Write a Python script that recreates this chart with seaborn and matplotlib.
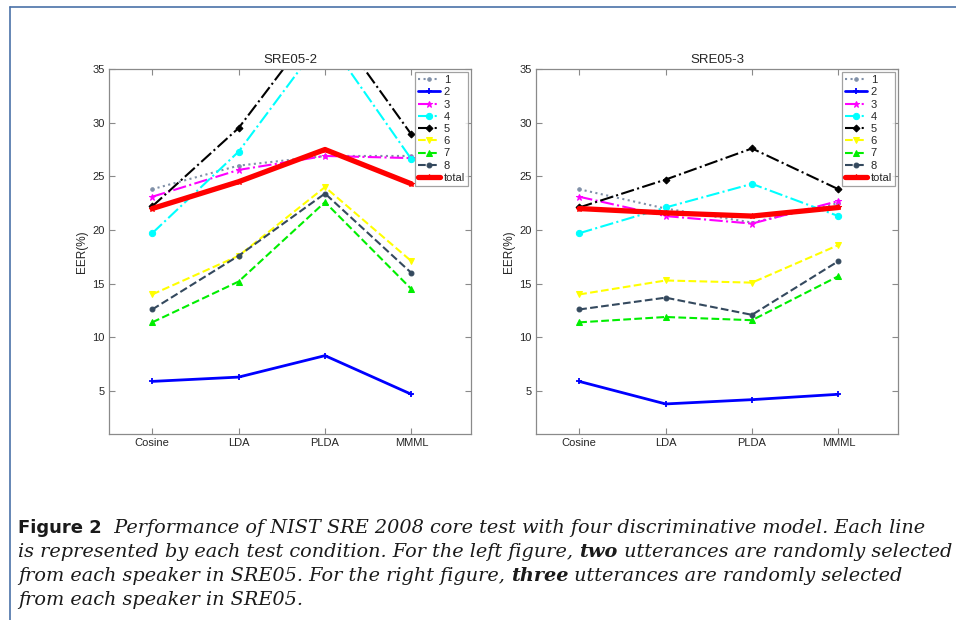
import matplotlib
matplotlib.use("Agg")
import matplotlib.pyplot as plt
from matplotlib.lines import Line2D
import seaborn as sns
import pandas as pd

sns.set_theme(style="white")
plt.rcParams["font.family"] = ["Liberation Sans", "DejaVu Sans"]

# Back-end models on the x axis
models = ["Cosine", "LDA", "PLDA", "MMML"]
positions = [1, 2, 3, 4]

series_names = ["1", "2", "3", "4", "5", "6", "7", "8", "total"]

# EER (%) per test condition, two utterances per speaker (SRE05-2)
sre2_c1 = [23.8, 26.0, 26.9, 26.9]
sre2_c2 = [5.9, 6.3, 8.3, 4.7]
sre2_c3 = [23.1, 25.6, 26.9, 26.7]
sre2_c4 = [19.7, 27.3, 38.1, 26.6]
sre2_c5 = [22.2, 29.5, 40.1, 28.9]
sre2_c6 = [14.0, 17.6, 24.0, 17.1]
sre2_c7 = [11.4, 15.2, 22.6, 14.5]
sre2_c8 = [12.6, 17.6, 23.4, 16.0]
sre2_total = [22.0, 24.5, 27.5, 24.3]

# EER (%) per test condition, three utterances per speaker (SRE05-3)
sre3_c1 = [23.8, 22.0, 20.7, 22.5]
sre3_c2 = [5.9, 3.8, 4.2, 4.7]
sre3_c3 = [23.1, 21.3, 20.6, 22.7]
sre3_c4 = [19.7, 22.1, 24.3, 21.3]
sre3_c5 = [22.1, 24.7, 27.6, 23.8]
sre3_c6 = [14.0, 15.3, 15.1, 18.6]
sre3_c7 = [11.4, 11.9, 11.6, 15.7]
sre3_c8 = [12.6, 13.7, 12.1, 17.1]
sre3_total = [22.0, 21.6, 21.3, 22.1]

sre2 = [sre2_c1, sre2_c2, sre2_c3, sre2_c4, sre2_c5, sre2_c6, sre2_c7, sre2_c8, sre2_total]
sre3 = [sre3_c1, sre3_c2, sre3_c3, sre3_c4, sre3_c5, sre3_c6, sre3_c7, sre3_c8, sre3_total]

styles = {
    "1": dict(color="#8090a8", linestyle=":", marker=".", markersize=5, linewidth=1.5),
    "2": dict(color="#0000ff", linestyle="-", marker="+", markersize=4.5, linewidth=2.0, markeredgewidth=1.3),
    "3": dict(color="#ff00ff", linestyle="-.", marker="*", markersize=5, linewidth=1.5),
    "4": dict(color="#00ffff", linestyle="-.", marker="o", markersize=4.5, linewidth=1.5),
    "5": dict(color="#000000", linestyle="-.", marker="D", markersize=3.5, linewidth=1.5),
    "6": dict(color="#ffff00", linestyle="--", marker="v", markersize=4.5, linewidth=1.5),
    "7": dict(color="#00ee00", linestyle="--", marker="^", markersize=4.5, linewidth=1.5),
    "8": dict(color="#34495e", linestyle="--", marker="o", markersize=3.5, linewidth=1.5),
    "total": dict(color="#ff0000", linestyle="-", marker="*", markersize=4, linewidth=3.8),
}

W, H = 956, 620
fig = plt.figure(figsize=(W / 100, H / 100), dpi=100)
fig.patch.set_facecolor("white")


def px_axes(x0, y0, x1, y1):
    return fig.add_axes([x0 / W, 1 - y1 / H, (x1 - x0) / W, (y1 - y0) / H])


ax_left = px_axes(109, 69, 471, 434)
ax_right = px_axes(536, 69, 898, 434)

spine_grey = "#8a8a8a"
for ax, data, title in [(ax_left, sre2, "SRE05-2"), (ax_right, sre3, "SRE05-3")]:
    for name, vals in zip(series_names, data):
        df = pd.DataFrame({"model": positions, "eer": vals})
        st = dict(styles[name])
        sns.lineplot(data=df, x="model", y="eer", ax=ax, label=name,
                     markeredgecolor=st["color"], clip_on=True, **st)
    ax.set_xlim(0.5, 4.69)
    ax.set_ylim(1, 35)
    ax.set_xticks(positions)
    ax.set_xticklabels(models)
    ax.set_yticks([5, 10, 15, 20, 25, 30, 35])
    ax.set_xlabel("")
    ax.set_ylabel("EER(%)", fontsize=8.5, labelpad=3)
    ax.set_title(title, fontsize=9.5, pad=4)
    ax.tick_params(axis="both", which="both", direction="in", length=4, width=0.8,
                   color=spine_grey, labelsize=8, top=True, right=True,
                   bottom=True, left=True, pad=3)
    for sp in ax.spines.values():
        sp.set_visible(True)
        sp.set_color(spine_grey)
        sp.set_linewidth(0.9)
    leg = ax.legend(loc="upper right", fontsize=8, frameon=True, fancybox=False,
                    borderaxespad=0.25, handlelength=2.0, handletextpad=0.3,
                    labelspacing=0.2, borderpad=0.3)
    leg.get_frame().set_edgecolor(spine_grey)
    leg.get_frame().set_linewidth(0.9)

# Page border
border_color = "#4a72a8"
fig.add_artist(Line2D([10 / W, 10 / W], [0, 1 - 7 / H], color=border_color, lw=1.2,
                      transform=fig.transFigure))
fig.add_artist(Line2D([10 / W, 1], [1 - 7 / H, 1 - 7 / H], color=border_color, lw=1.2,
                      transform=fig.transFigure))

# Caption, composed of runs in different faces
caption_lines = [
    [("Figure 2", "sans-bold"), ("  Performance of NIST SRE 2008 core test with four discriminative model. Each line", "it")],
    [("is represented by each test condition. For the left figure, ", "it"), ("two", "bold-it"),
     (" utterances are randomly selected", "it")],
    [("from each speaker in SRE05. For the right figure, ", "it"), ("three", "bold-it"),
     (" utterances are randomly selected", "it")],
    [("from each speaker in SRE05.", "it")],
]
faces = {
    "sans-bold": dict(family="DejaVu Sans", weight="bold", style="normal"),
    "it": dict(family="DejaVu Serif", weight="normal", style="italic"),
    "bold-it": dict(family="DejaVu Serif", weight="bold", style="italic"),
}
label_size = 13.0
baselines = [533, 557, 581, 605]
renderer = fig.canvas.get_renderer()


def draw_line(runs, yb, size):
    x = 18
    artists = []
    for txt, face in runs:
        fs = label_size if face == "sans-bold" else size
        t = fig.text(x / W, 1 - yb / H, txt, fontsize=fs, va="baseline", ha="left",
                     color="#1a1a1a", **faces[face])
        x += t.get_window_extent(renderer=renderer).width
        artists.append(t)
    return artists, x


# Fit the serif size so the widest caption line ends at the right margin
size = 12.0
for _ in range(3):
    widest = 0
    for line, yb in zip(caption_lines[:3], baselines):
        arts, xend = draw_line(line, yb, size)
        for a in arts:
            a.remove()
        widest = max(widest, xend)
    size *= (948 - 110) / (widest - 110)

for line, yb in zip(caption_lines, baselines):
    draw_line(line, yb, size)

fig.savefig("out.png", dpi=100, facecolor="white")
